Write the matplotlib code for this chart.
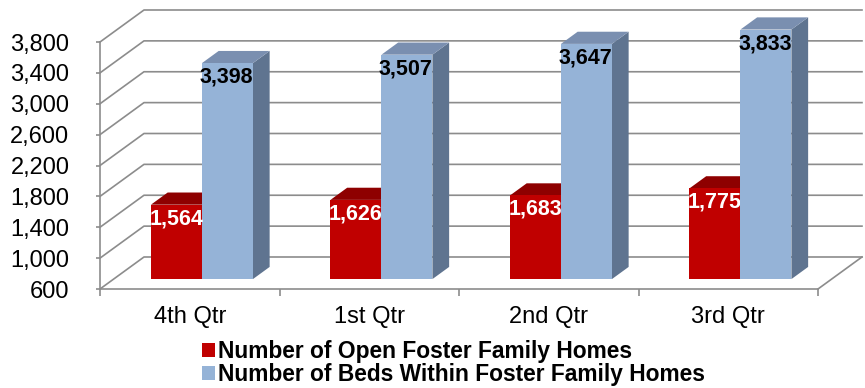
import numpy as np
import matplotlib.pyplot as plt
from matplotlib.patches import Polygon, Patch
from matplotlib.ticker import FuncFormatter

plt.rcParams['font.family'] = ['Liberation Sans', 'DejaVu Sans']

quarters = ["4th Qtr", "1st Qtr", "2nd Qtr", "3rd Qtr"]
open_homes = [1564, 1626, 1683, 1775]
beds = [3398, 3507, 3647, 3833]
series_names = ["Number of Open Foster Family Homes",
                "Number of Beds Within Foster Family Homes"]
y_ticks = [600, 1000, 1400, 1800, 2200, 2600, 3000, 3400, 3800]

# face colours: front, top, side
red = ("#C00000", "#8E0000", "#900000")
blue = ("#95B3D7", "#7A8FB0", "#5F7490")
grid_col = "#8C8C8C"

# oblique depth of the floor, in data units (x: categories, y: values)
DX, DY = 0.245, 414.6
f_front, f_back = 0.31, 0.69
bar_w = 0.284
group_start = 0.208
base = y_ticks[0]

fig = plt.figure(figsize=(8.65, 3.88), dpi=100)
ax = fig.add_axes([100 / 865, 99 / 388, 718 / 865, 247 / 388])
ax.set_xlim(0, 4)
ax.set_ylim(600, 3800)
ax.patch.set_visible(False)

# walls: slanted side gridlines and horizontal back-wall gridlines
for v in y_ticks:
    ax.plot([0, DX, 4 + DX], [v, v + DY, v + DY], color=grid_col, lw=1.2,
            clip_on=False, zorder=1)
ax.plot([4, 4 + DX], [base, base + DY], color=grid_col, lw=1.2, clip_on=False, zorder=1)


def draw_bar(x0, v, cols, z):
    x1 = x0 + bar_w
    fx, fy = f_front * DX, f_front * DY
    bx, by = f_back * DX, f_back * DY
    side = [(x1 + fx, base + fy), (x1 + fx, v + fy), (x1 + bx, v + by), (x1 + bx, base + by)]
    top = [(x0 + fx, v + fy), (x1 + fx, v + fy), (x1 + bx, v + by), (x0 + bx, v + by)]
    front = [(x0 + fx, base + fy), (x1 + fx, base + fy), (x1 + fx, v + fy), (x0 + fx, v + fy)]
    for pts, c in ((side, cols[2]), (top, cols[1]), (front, cols[0])):
        ax.add_patch(Polygon(pts, closed=True, facecolor=c, edgecolor='none',
                             clip_on=False, zorder=z))
    return (x0 + x1) / 2 + fx, v + fy


for i in range(len(quarters)):
    x_red = i + group_start
    cx, cy = draw_bar(x_red, open_homes[i], red, 3 + 2 * i)
    ax.annotate(f"{open_homes[i]:,}", (cx, cy), xytext=(0, -14), textcoords='offset pixels',
                ha='center', va='center', fontsize=15.5, fontweight='bold', color='white',
                zorder=10, annotation_clip=False)
    cx, cy = draw_bar(x_red + bar_w, beds[i], blue, 4 + 2 * i)
    ax.annotate(f"{beds[i]:,}", (cx, cy), xytext=(-1, -14), textcoords='offset pixels',
                ha='center', va='center', fontsize=15.5, fontweight='bold', color='black',
                zorder=10, annotation_clip=False)

# axes lines and ticks
for s in ("top", "right"):
    ax.spines[s].set_visible(False)
for s in ("left", "bottom"):
    ax.spines[s].set_color(grid_col)
    ax.spines[s].set_linewidth(1.2)
    ax.spines[s].set_zorder(2)

ax.set_yticks(y_ticks)
ax.yaxis.set_major_formatter(FuncFormatter(lambda v, p: f"{int(v):,}"))
ax.tick_params(axis='y', length=3, width=1.2, color=grid_col, pad=19, labelsize=17)

ax.set_xticks(np.arange(0, 5))
ax.set_xticklabels([])
ax.set_xticks(np.arange(len(quarters)) + 0.5, minor=True)
ax.set_xticklabels(quarters, minor=True)
ax.tick_params(axis='x', which='major', length=5, width=1.2, color=grid_col)
ax.tick_params(axis='x', which='minor', length=0, pad=12, labelsize=17)

handles = [Patch(facecolor=red[0]), Patch(facecolor=blue[0])]
fig.legend(handles, series_names, loc='upper left', bbox_to_anchor=(202 / 865, 1 - 340 / 388),
           frameon=False, borderpad=0, borderaxespad=0, handlelength=0.57, handleheight=0.57,
           handletextpad=0.15, labelspacing=0.0, prop={'weight': 'bold', 'size': 16.4})

fig.savefig("out.png", dpi=100)
